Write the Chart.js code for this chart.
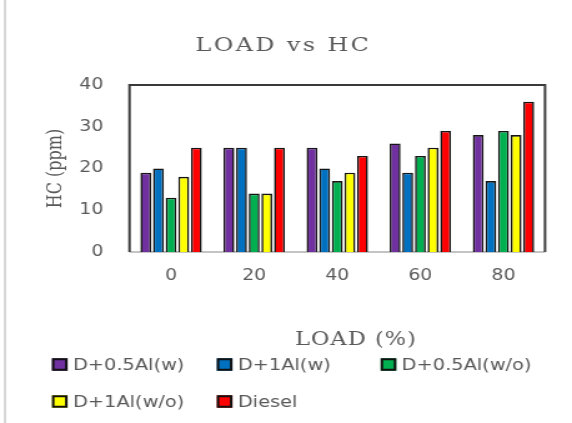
<!DOCTYPE html>
<html>
<head>
<meta charset="utf-8">
<script src="https://cdn.jsdelivr.net/npm/chart.js@4/dist/chart.umd.min.js"></script>
<style>
  html, body { margin: 0; padding: 0; background: #fff; overflow: hidden; }
  #wrap { width: 572px; height: 423px; overflow: hidden; }
  /* the drawing is made narrow and widened horizontally, giving the wide lettering */
  #c { display: block; transform: scaleX(1.2489); transform-origin: 0 0; }
</style>
</head>
<body>
<div id="wrap"><canvas id="c" width="458" height="423"></canvas></div>
<script>
// Engine load (%) on the x axis
const loads = ['0', '20', '40', '60', '80'];

// HC emission (ppm) per fuel blend
const blend05AlW  = [19, 25, 25, 26, 28];
const blend1AlW   = [20, 25, 20, 19, 17];
const blend05AlWo = [13, 14, 17, 23, 29];
const blend1AlWo  = [18, 14, 19, 25, 28];
const diesel      = [25, 25, 23, 29, 36];

const seriesNames = ['D+0.5Al(w)', 'D+1Al(w)', 'D+0.5Al(w/o)', 'D+1Al(w/o)', 'Diesel'];
const seriesColors = ['#7030A0', '#0070C0', '#00B050', '#FFFF00', '#FF0000'];
const seriesValues = [blend05AlW, blend1AlW, blend05AlWo, blend1AlWo, diesel];

// y axis ticks
const hcMin = 0, hcMax = 40, hcStep = 10;

const chartTitle = 'LOAD vs HC';
const xTitle = 'LOAD (%)';
const yTitle = 'HC (ppm)';

const grey = '#595959';

// frame around the plotting area
const framePlugin = {
  id: 'frame',
  beforeDatasetsDraw(chart) {
    const { ctx, chartArea: a } = chart;
    ctx.save();
    ctx.lineWidth = 2;
    ctx.strokeStyle = '#c4c4c4';
    ctx.beginPath();
    ctx.moveTo(a.left, a.bottom);
    ctx.lineTo(a.right, a.bottom);
    ctx.stroke();
    ctx.strokeStyle = '#3a3a3a';
    ctx.beginPath();
    ctx.moveTo(a.left, a.bottom);
    ctx.lineTo(a.left, a.top);
    ctx.lineTo(a.right, a.top);
    ctx.lineTo(a.right, a.bottom);
    ctx.stroke();
    ctx.restore();
  }
};

// title, x axis caption and the two-row legend
const textPlugin = {
  id: 'texts',
  afterDraw(chart) {
    const { ctx } = chart;
    ctx.save();
    // container edge on the left
    ctx.fillStyle = '#d6d6d6';
    ctx.fillRect(3, 0, 2, 423);

    ctx.fillStyle = grey;
    ctx.textAlign = 'center';
    ctx.textBaseline = 'alphabetic';
    ctx.font = '19px "DejaVu Serif"';
    ctx.letterSpacing = '2px';
    ctx.fillText(chartTitle, 227, 51);

    ctx.font = '18px "DejaVu Serif"';
    ctx.letterSpacing = '0.8px';
    ctx.fillText(xTitle, 285, 345);

    // legend
    const cols = [41.6, 173.6, 304.8];
    const rows = [364.5, 401.5];
    const box = 12.5;
    ctx.font = '15.5px "DejaVu Sans"';
    ctx.letterSpacing = '0px';
    ctx.textAlign = 'left';
    chart.data.datasets.forEach((ds, i) => {
      const x = cols[i % 3];
      const y = rows[Math.floor(i / 3)];
      ctx.fillStyle = ds.backgroundColor;
      ctx.fillRect(x, y - box / 2, box, box);
      ctx.lineWidth = 2;
      ctx.strokeStyle = '#111';
      ctx.strokeRect(x + 1, y - box / 2 + 1, box - 2, box - 2);
      ctx.fillStyle = grey;
      ctx.fillText(ds.label, x + 16.8, y + 5.8);
    });
    ctx.restore();
  }
};

new Chart(document.getElementById('c'), {
  type: 'bar',
  data: {
    labels: loads,
    datasets: seriesNames.map((name, i) => ({
      label: name,
      data: seriesValues[i],
      backgroundColor: seriesColors[i],
      borderColor: '#151515',
      borderWidth: 1.6,
      categoryPercentage: 0.76,
      barPercentage: 0.86
    }))
  },
  options: {
    responsive: false,
    animation: false,
    devicePixelRatio: 1,
    layout: { padding: { left: 0, top: 85, right: 21.6, bottom: 0 } },
    plugins: {
      legend: { display: false },
      title: { display: false },
      tooltip: { enabled: false }
    },
    scales: {
      x: {
        grid: { display: false, drawTicks: false },
        border: { display: false },
        ticks: {
          color: grey,
          font: { family: 'DejaVu Sans', size: 15 },
          padding: 15
        },
        afterFit(scale) { scale.height = 171; }
      },
      y: {
        min: hcMin,
        max: hcMax,
        grid: { display: false, drawTicks: false },
        border: { display: false },
        ticks: {
          stepSize: hcStep,
          color: grey,
          font: { family: 'DejaVu Sans', size: 15 },
          padding: 21
        },
        title: {
          display: true,
          text: yTitle,
          color: grey,
          font: { family: 'DejaVu Serif', size: 16 },
          padding: { top: 35, bottom: 0 }
        },
        afterFit(scale) { scale.width = 103.7; }
      }
    }
  },
  plugins: [framePlugin, textPlugin]
});
</script>
</body>
</html>
